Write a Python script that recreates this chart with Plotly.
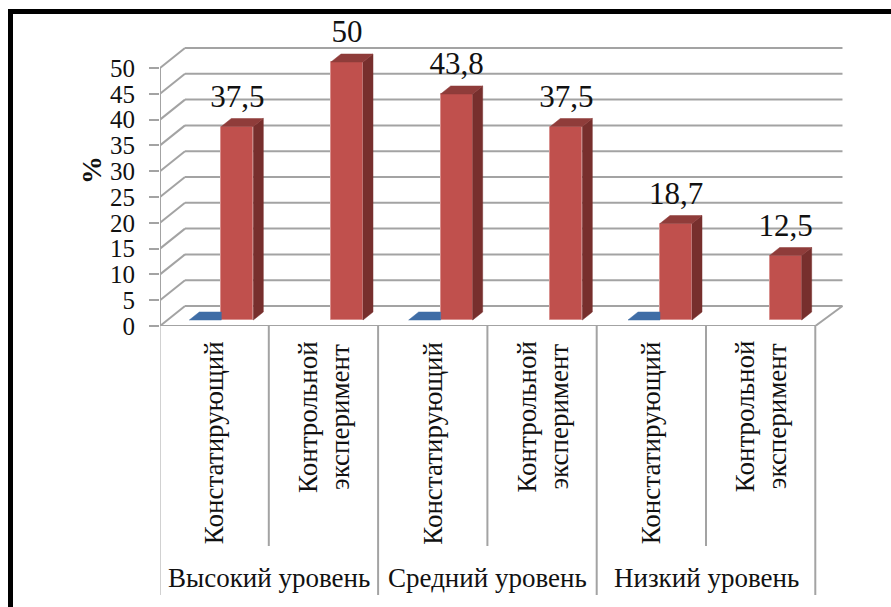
import plotly.graph_objects as go

# ---- data ----
level_labels = ["Высокий уровень", "Средний уровень", "Низкий уровень"]
stage_labels = [["Констатирующий"], ["Контрольной", "эксперимент"]] * 3
red_values = [37.5, 50, 43.8, 37.5, 18.7, 12.5]
red_labels = ["37,5", "50", "43,8", "37,5", "18,7", "12,5"]
blue_values = [0, None, 0, None, 0, None]
y_ticks = list(range(0, 51, 5))

# ---- figure geometry (pixels) ----
W, H = 891, 607
L, R, T, B = 160, 880, 14, 326
CAT_PX = 109.67
SEP_PX = 109.3      # the category table below the chart is a little narrower than the bar spacing
VAL_PX = 5.16
GRAY = "#a3a3a3"
FONT = "Liberation Serif"

x_max = (R - L) / CAT_PX
y_max = (B - T) / VAL_PX
wall_dx, wall_dy = 25.0 / CAT_PX, 20.0 / VAL_PX      # depth of chart box
base = 6.0 / VAL_PX                                   # bar front sits above the front edge
side_dx, side_dy = 10.0 / CAT_PX, 8.0 / VAL_PX        # depth of one bar
bar_w = 32.0 / CAT_PX
red_off, blue_off = 0.705, 0.705 - bar_w
label_lift = 4.0 / VAL_PX


def px_x(p):
    return (p - L) / (R - L)


def px_y(p):
    return (B - p) / (B - T)


n = len(red_values)
sep_x = [(i * SEP_PX - 0.5) / CAT_PX for i in range(n + 1)]
fig = go.Figure()

# red front faces
fig.add_trace(go.Bar(
    x=[i + red_off for i in range(n)], y=red_values, base=[base] * n, width=bar_w,
    marker=dict(color="#c0504d", line=dict(color="#d8908e", width=1)),
    hoverinfo="skip", showlegend=False))


def poly(xs, ys, color):
    fig.add_trace(go.Scatter(x=xs + xs[:1], y=ys + ys[:1], mode="lines", fill="toself",
                             fillcolor=color, line=dict(color=color, width=0.5),
                             hoverinfo="skip", showlegend=False))


for i, v in enumerate(red_values):
    x0 = i + red_off - bar_w / 2
    x1 = x0 + bar_w
    top = base + v
    poly([x1, x1 + side_dx, x1 + side_dx, x1], [base, base + side_dy, top + side_dy, top], "#772f2d")
    poly([x0, x1, x1 + side_dx, x0 + side_dx], [top, top, top + side_dy, top + side_dy], "#8f3c3a")

# blue zero-height bars: only the part of the top face not hidden by the red bar
for i, v in enumerate(blue_values):
    if v is None:
        continue
    x0 = i + blue_off - bar_w / 2
    x1 = x0 + bar_w
    poly([x0, x1, x1, x0 + side_dx], [base + v, base + v, base + v + side_dy, base + v + side_dy], "#3f6da6")

# value labels
fig.add_trace(go.Scatter(
    x=[i + red_off for i in range(n)],
    y=[base + v + side_dy + label_lift for v in red_values],
    mode="text", text=red_labels, textposition="top center",
    textfont=dict(family=FONT, size=31, color="#111111"),
    cliponaxis=False, hoverinfo="skip", showlegend=False))

shapes = []


def line(x0, y0, x1, y1, xref="x", yref="y", w=2.0):
    shapes.append(dict(type="line", layer="below", xref=xref, yref=yref, x0=x0, y0=y0, x1=x1, y1=y1,
                       line=dict(color=GRAY, width=w)))


# walls and floor
for t in y_ticks:
    line(0, t, wall_dx, t + wall_dy)
    line(wall_dx, t + wall_dy, sep_x[-1] + wall_dx + 0.02, t + wall_dy)
line(0, 0, 0, y_ticks[-1])
line(0, 0, sep_x[-1], 0)
line(sep_x[-1], 0, sep_x[-1] + wall_dx + 0.02, wall_dy)

# separators of the category table
for i in range(n + 1):
    end = 595 if i % 2 == 0 else 546
    line(sep_x[i], px_y(B), sep_x[i], px_y(end), xref="x", yref="paper")

# outer black frame (left and top only; the picture is cropped on the other sides)
shapes.append(dict(type="rect", layer="below", xref="paper", yref="paper", x0=px_x(8), x1=px_x(13),
                   y0=px_y(9), y1=px_y(H), fillcolor="#000000", line=dict(width=0)))
shapes.append(dict(type="rect", layer="below", xref="paper", yref="paper", x0=px_x(8), x1=px_x(W),
                   y0=px_y(9), y1=px_y(14), fillcolor="#000000", line=dict(width=0)))

annotations = []
for i, lines in enumerate(stage_labels):
    gap = 32 / CAT_PX
    mid = (sep_x[i] + sep_x[i + 1]) / 2
    for j, s in enumerate(lines):
        xc = mid + (j - (len(lines) - 1) / 2) * gap
        annotations.append(dict(
            text=s, x=xc, xref="x", y=px_y(443 if len(lines) == 1 else 416.5), yref="paper",
            textangle=-90, showarrow=False, xanchor="center", yanchor="middle",
            font=dict(family=FONT, size=27, color="#111111")))
for k, s in enumerate(level_labels):
    annotations.append(dict(
        text=s, x=sep_x[2 * k + 1], xref="x", y=px_y(578), yref="paper", showarrow=False,
        xanchor="center", yanchor="middle", font=dict(family=FONT, size=27, color="#111111")))

fig.update_layout(
    width=W, height=H, margin=dict(l=L, r=W - R, t=T, b=H - B, pad=0),
    paper_bgcolor="white", plot_bgcolor="white", showlegend=False,
    bargap=0, shapes=shapes, annotations=annotations,
    xaxis=dict(range=[0, x_max], showgrid=False, zeroline=False, showline=False,
               showticklabels=False, ticks=""),
    yaxis=dict(range=[0, y_max], tickvals=y_ticks, ticktext=[str(t) for t in y_ticks],
               showgrid=False, zeroline=False, showline=False,
               ticks="outside", ticklen=10, tickwidth=2, tickcolor=GRAY, ticklabelstandoff=9,
               tickfont=dict(family=FONT, size=25, color="#111111"),
               title=dict(text="<b>%</b>", standoff=0,
                          font=dict(family=FONT, size=28, color="#111111"))),
)

fig.write_html("out.html", config=dict(displayModeBar=False),
               post_script="document.body.style.margin='0';document.body.style.overflow='hidden';")
